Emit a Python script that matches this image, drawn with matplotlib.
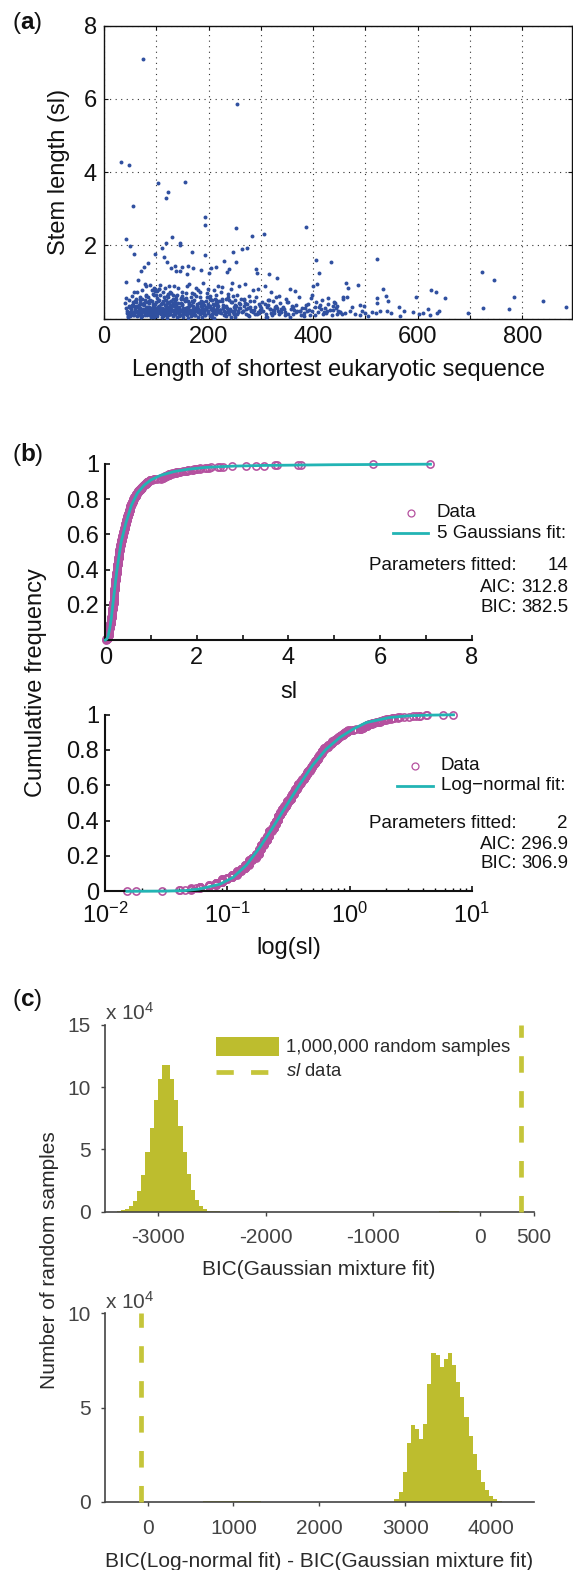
import numpy as np
import matplotlib
matplotlib.use('Agg')
import matplotlib.pyplot as plt
from matplotlib.lines import Line2D
from matplotlib.patches import Rectangle

plt.rcParams['font.family'] = ['Liberation Sans', 'DejaVu Sans']
plt.rcParams['mathtext.fontset'] = 'custom'
plt.rcParams['mathtext.rm'] = 'Liberation Sans'
plt.rcParams['mathtext.it'] = 'Liberation Sans:italic'
plt.rcParams['mathtext.bf'] = 'Liberation Sans:bold'
plt.rcParams['axes.unicode_minus'] = False

# ---- panel (a): length of shortest eukaryotic sequence vs stem length (sl)
seq_len = [
    33, 48, 55, 43, 49, 58, 43, 41, 44, 46,
    47, 50, 52, 45, 55, 57, 53, 59, 51, 56,
    42, 48, 54, 58, 60, 46, 52, 57, 49, 44,
    75, 97, 70, 77, 85, 65, 88, 92, 80, 95,
    62, 64, 67, 69, 71, 73, 76, 78, 81, 83,
    86, 89, 91, 94, 96, 99, 63, 66, 68, 72,
    74, 79, 82, 84, 87, 90, 93, 98, 61, 65,
    70, 77, 80, 85, 88, 92, 95, 97, 99, 67,
    72, 75, 83, 86, 90, 94, 62, 68, 78, 96,
    64, 71, 79, 84, 89, 93, 98, 66, 81, 87,
    104, 122, 118, 130, 118, 111, 114, 120, 135, 128,
    105, 108, 112, 116, 124, 132, 138, 101, 126, 134,
    102, 106, 109, 113, 115, 119, 121, 125, 127, 131,
    133, 136, 139, 103, 107, 110, 117, 123, 129, 137,
    100, 104, 111, 114, 119, 124, 128, 132, 135, 140,
    101, 106, 109, 115, 120, 126, 130, 134, 138, 112,
    103, 108, 116, 121, 127, 131, 136, 139, 105, 118,
    110, 113, 122, 125, 129, 133, 137, 102, 107, 123,
    154, 145, 145, 168, 160, 150, 170, 146, 175, 158,
    141, 143, 147, 149, 152, 155, 157, 161, 163, 166,
    169, 172, 174, 177, 179, 142, 148, 151, 156, 159,
    162, 165, 167, 171, 176, 178, 144, 153, 164, 173,
    140, 146, 150, 155, 160, 165, 170, 175, 180, 158,
    142, 147, 152, 157, 163, 168, 173, 178, 149, 161,
    194, 194, 194, 205, 215, 185, 200, 210, 190, 218,
    181, 183, 186, 188, 191, 193, 196, 198, 201, 203,
    206, 208, 211, 213, 216, 219, 182, 187, 192, 197,
    202, 207, 212, 217, 184, 189, 195, 199, 204, 214,
    220, 209, 199, 189, 180, 204, 214, 192, 185, 197,
    255, 253, 247, 229, 253, 240, 235, 225, 245, 258,
    221, 224, 227, 230, 233, 236, 239, 242, 246, 249,
    251, 254, 257, 260, 223, 228, 232, 238, 243, 248,
    252, 256, 226, 231, 237, 241, 244, 250, 234, 259,
    274, 264, 283, 290, 292, 295, 270, 285, 278, 262,
    265, 268, 272, 276, 280, 284, 288, 293, 297, 299,
    263, 267, 271, 275, 279, 286, 291, 296, 281, 269,
    306, 315, 330, 308, 320, 335, 302, 311, 325, 338,
    304, 309, 313, 318, 322, 327, 332, 336, 300, 316,
    319, 324, 329, 334, 339,
    355, 365, 372, 342, 346, 350, 358, 362, 368, 375,
    344, 352, 360, 370, 378, 348, 376, 364,
    387, 405, 412, 408, 400, 395, 390, 385, 382, 398,
    403, 410, 415, 418, 393, 406, 414, 388,
    435, 441, 429, 451, 422, 425, 432, 438, 445, 448,
    427, 436, 443, 455,
    462, 467, 465, 458, 461, 475, 486, 490, 497, 493,
    500, 490, 522, 533, 522, 522, 528, 521, 539, 544,
    548, 541, 470, 480, 505, 512,
    565, 567, 573, 590, 596, 602, 610, 620, 624, 626,
    634, 636, 641, 652, 696,
    722, 746, 785, 839, 884, 724, 774,
    120, 210, 160, 95, 250, 140, 310, 180,
    45, 58, 66, 80, 91, 52, 73, 86, 62, 95,
    71, 88, 47, 93, 60, 77, 84, 55, 68, 98,
    63, 79, 50, 87, 74, 96, 57, 69, 82, 43,
    90, 53, 67, 76, 85, 48, 94, 59, 72, 81,
    102, 118, 126, 109, 134, 113, 121, 138, 106, 129,
    131, 107, 115, 124, 103, 137, 119, 110, 128, 135,
    111, 136, 101, 120, 128, 105, 132, 116, 124, 139,
    123, 108, 117, 133, 100, 127, 112, 138, 104, 122,
    151, 166, 143, 158, 172, 147, 176, 162, 154, 169,
    174, 158, 145, 167, 152, 161, 178, 149, 171, 156,
    144, 170, 163, 150, 177, 157, 141, 168, 148, 175,
    187, 203, 214, 191, 182, 209, 196, 217, 186, 200,
    193, 211, 184, 204, 218, 188, 198, 207, 215, 183,
    206, 190, 199, 181, 216, 195, 210, 185, 202, 219,
    233, 248, 222, 257, 239, 230, 251, 244, 226, 237,
    242, 229, 255, 235, 221, 249, 227, 258, 240, 246,
    277, 289, 266, 294, 282, 261, 298, 273, 287, 268,
    312, 326, 303, 337, 318, 331, 307, 323, 314, 329,
    356, 383, 347, 367, 392, 374, 361, 386, 351, 398,
    404, 421, 437, 452, 412, 446, 428, 417, 440, 457,
]
stem_len = [
    4.27, 4.21, 3.08, 2.17, 1.98, 1.76, 1.01, 0.42, 0.22, 0.12,
    0.35, 0.08, 0.27, 0.16, 0.45, 0.19, 0.62, 0.31, 0.14, 0.09,
    0.28, 0.52, 0.38, 0.11, 0.24, 0.06, 0.18, 0.72, 0.33, 0.15,
    7.08, 1.78, 1.31, 1.40, 1.51, 1.06, 0.91, 0.79, 0.88, 0.83,
    0.21, 0.34, 0.12, 0.55, 0.27, 0.08, 0.43, 0.19, 0.66, 0.31,
    0.15, 0.24, 0.48, 0.11, 0.36, 0.22, 0.72, 0.17, 0.29, 0.39,
    0.26, 0.13, 0.21, 0.58, 0.33, 0.18, 0.25, 0.82, 0.46, 0.09,
    0.14, 0.37, 0.28, 0.20, 0.52, 0.30, 0.16, 0.41, 0.64, 0.24,
    0.77, 0.23, 0.11, 0.44, 0.27, 0.35, 0.19, 0.60, 0.95, 0.07,
    0.32, 0.18, 0.50, 0.26, 0.13, 0.68, 0.21, 0.38, 0.15, 0.29,
    3.71, 3.47, 3.30, 2.22, 2.06, 1.92, 1.69, 1.55, 1.45, 1.38,
    0.80, 0.92, 0.74, 0.85, 0.90, 0.66, 1.30, 0.76, 0.70, 0.88,
    0.22, 0.35, 0.14, 0.48, 0.26, 0.19, 0.61, 0.31, 0.12, 0.42,
    0.24, 0.55, 0.17, 0.29, 0.66, 0.21, 0.38, 0.15, 0.27, 0.33,
    0.45, 0.18, 0.30, 0.11, 0.52, 0.23, 0.36, 0.09, 0.47, 0.20,
    0.13, 0.27, 0.40, 0.58, 0.16, 0.72, 0.25, 0.34, 0.62, 0.08,
    0.32, 0.20, 0.24, 0.44, 0.19, 0.55, 0.14, 0.28, 0.81, 0.36,
    0.26, 0.17, 0.31, 0.12, 0.49, 0.22, 0.39, 0.57, 0.23, 0.68,
    3.74, 2.07, 2.00, 1.81, 1.45, 1.42, 1.38, 1.30, 0.84, 1.22,
    0.85, 0.33, 0.21, 0.62, 0.14, 0.47, 0.28, 0.18, 0.95, 0.37,
    0.24, 0.52, 0.11, 0.31, 0.78, 0.26, 0.43, 0.19, 0.70, 0.23,
    0.35, 0.16, 0.58, 0.27, 0.20, 0.41, 0.13, 0.55, 0.25, 0.67,
    0.30, 0.10, 0.38, 0.22, 0.48, 0.15, 0.34, 0.26, 0.18, 0.88,
    0.19, 0.56, 0.29, 0.12, 0.40, 0.21, 0.09, 0.32, 0.74, 0.27,
    2.77, 2.57, 1.74, 1.38, 1.40, 1.32, 1.25, 0.78, 0.98, 0.90,
    0.22, 0.14, 0.35, 0.18, 0.27, 0.09, 0.48, 0.21, 0.31, 0.62,
    0.25, 0.40, 0.16, 0.55, 0.29, 0.19, 0.43, 0.28, 0.12, 0.70,
    0.34, 0.13, 0.23, 0.38, 0.58, 0.20, 0.26, 0.15, 0.50, 0.66,
    0.17, 0.30, 0.82, 0.45, 0.26, 0.11, 0.52, 0.37, 0.24, 0.60,
    5.85, 2.47, 1.81, 1.57, 1.54, 1.35, 1.28, 0.86, 0.98, 0.88,
    0.24, 0.15, 0.38, 0.21, 0.55, 0.29, 0.12, 0.45, 0.19, 0.33,
    0.26, 0.64, 0.17, 0.40, 0.72, 0.31, 0.18, 0.25, 0.80, 0.14,
    0.36, 0.22, 0.48, 0.10, 0.60, 0.27, 0.20, 0.52, 0.34, 0.28,
    1.93, 1.89, 2.26, 1.35, 1.25, 0.80, 0.95, 0.78, 0.62, 0.55,
    0.22, 0.35, 0.14, 0.28, 0.47, 0.19, 0.31, 0.12, 0.40, 0.25,
    0.18, 0.52, 0.27, 0.09, 0.33, 0.24, 0.58, 0.16, 0.21, 0.44,
    2.30, 1.22, 1.12, 0.90, 0.72, 0.62, 0.45, 0.33, 0.25, 0.18,
    0.22, 0.14, 0.38, 0.27, 0.11, 0.31, 0.20, 0.42, 0.29, 0.52,
    0.16, 0.24, 0.35, 0.13, 0.26,
    0.82, 0.75, 0.60, 0.32, 0.18, 0.45, 0.26, 0.12, 0.38, 0.22,
    0.27, 0.14, 0.35, 0.20, 0.30, 0.55, 0.11, 0.24,
    2.51, 1.60, 1.26, 0.95, 0.88, 0.57, 0.40, 0.28, 0.15, 0.22,
    0.33, 0.18, 0.26, 0.12, 0.10, 0.45, 0.38, 0.20,
    1.54, 0.42, 0.56, 0.19, 0.30, 0.15, 0.25, 0.35, 0.12, 0.22,
    0.20, 0.09, 0.28, 0.14,
    0.97, 0.84, 0.60, 0.54, 0.15, 0.33, 0.92, 0.37, 0.36, 0.22,
    0.15, 0.10, 1.64, 0.80, 0.56, 0.42, 0.22, 0.15, 0.61, 0.49,
    0.15, 0.22, 0.20, 0.12, 0.08, 0.18,
    0.33, 0.07, 0.21, 0.19, 0.60, 0.13, 0.15, 0.26, 0.10, 0.78,
    0.72, 0.15, 0.22, 0.56, 0.15,
    1.28, 1.07, 0.60, 0.49, 0.33, 0.28, 0.26,
    0.015, 0.018, 0.029, 0.041, 0.045, 0.050, 0.055, 0.058,
    0.07, 0.13, 0.18, 0.23, 0.20, 0.30, 0.40, 0.47, 0.53, 0.66,
    0.05, 0.09, 0.15, 0.17, 0.25, 0.21, 0.32, 0.37, 0.50, 0.75,
    0.08, 0.11, 0.19, 0.26, 0.22, 0.28, 0.36, 0.42, 0.46, 0.56,
    0.06, 0.14, 0.24, 0.17, 0.20, 0.33, 0.39, 0.49, 0.54, 0.61,
    0.07, 0.09, 0.12, 0.19, 0.23, 0.26, 0.29, 0.41, 0.51, 0.70,
    0.08, 0.15, 0.21, 0.17, 0.25, 0.31, 0.35, 0.43, 0.47, 0.53,
    0.05, 0.13, 0.18, 0.24, 0.22, 0.34, 0.38, 0.50, 0.46, 0.64,
    0.09, 0.20, 0.26, 0.17, 0.30, 0.37, 0.44, 0.55, 0.48, 0.59,
    0.06, 0.08, 0.16, 0.22, 0.18, 0.25, 0.28, 0.42, 0.52, 0.69,
    0.09, 0.11, 0.23, 0.19, 0.26, 0.33, 0.36, 0.40, 0.45, 0.56,
    0.07, 0.14, 0.17, 0.21, 0.24, 0.29, 0.44, 0.49, 0.54, 0.63,
    0.05, 0.08, 0.12, 0.20, 0.24, 0.18, 0.31, 0.39, 0.47, 0.58,
    0.09, 0.22, 0.17, 0.26, 0.34, 0.36, 0.41, 0.51, 0.46, 0.72,
    0.06, 0.16, 0.19, 0.25, 0.21, 0.27, 0.38, 0.43, 0.55, 0.49,
    0.08, 0.12, 0.23, 0.18, 0.20, 0.32, 0.37, 0.46, 0.53, 0.67,
    0.04, 0.09, 0.14, 0.17, 0.24, 0.21, 0.30, 0.43, 0.50, 0.62,
    0.07, 0.13, 0.22, 0.19, 0.25, 0.29, 0.36, 0.41, 0.48, 0.54,
    0.06, 0.15, 0.20, 0.17, 0.26, 0.28, 0.39, 0.47, 0.51, 0.60,
    0.05, 0.08, 0.11, 0.18, 0.23, 0.21, 0.33, 0.37, 0.45, 0.66,
    0.09, 0.19, 0.24, 0.17, 0.31, 0.35, 0.40, 0.52, 0.46, 0.59,
]

# ---- panel (b): fitted cumulative curves
gauss_fit_sl = [0, 0.03, 0.06, 0.1, 0.13, 0.16, 0.2, 0.25, 0.3, 0.35, 0.45,
                0.57, 0.7, 0.85, 1.0, 1.2, 1.5, 1.8, 2.2, 2.8, 3.5, 5.0, 7.1]
gauss_fit_cdf = [0, 0.005, 0.02, 0.07, 0.12, 0.19, 0.28, 0.39, 0.48, 0.56, 0.665,
                 0.765, 0.835, 0.88, 0.91, 0.935, 0.957, 0.97, 0.981, 0.988, 0.992, 0.996, 0.999]
lognorm_fit_sl = [0.015, 0.03, 0.045, 0.059, 0.0865, 0.111, 0.143, 0.184, 0.237, 0.304,
                  0.391, 0.50, 0.645, 0.83, 1.07, 1.37, 2.1, 3.0, 4.5, 7.1]
lognorm_fit_cdf = [0.0, 0.001, 0.004, 0.013, 0.040, 0.078, 0.148, 0.248, 0.365, 0.485,
                   0.605, 0.715, 0.805, 0.87, 0.918, 0.955, 0.983, 0.993, 0.997, 0.999]
fit_names = ['5 Gaussians fit:', 'Log\u2212normal fit:']
n_params = [14, 2]
aic = [312.8, 296.9]
bic = [382.5, 306.9]

# ---- panel (c): histograms of 1,000,000 random samples (counts in units of 10^4)
gmm_bin_start, gmm_bin_w = -3390, 38.5
gmm_counts = [0.03, 0.1, 0.2, 0.43, 0.88, 1.65, 2.96, 4.75, 6.72, 8.93, 10.67, 11.76,
              11.76, 10.67, 8.93, 6.88, 4.75, 3.01, 1.73, 0.96, 0.48, 0.21, 0.08, 0.04, 0.02]
gmm_minor_start = -387
gmm_minor_counts = [0.04, 0.06, 0.06, 0.05, 0.03]
diff_bin_start, diff_bin_w = 2874, 48
diff_counts = [0.12, 0.5, 1.58, 3.1, 4.08, 3.87, 3.33, 4.13, 6.26, 7.89, 7.78, 7.16, 7.57,
               7.89, 7.27, 6.38, 5.55, 4.52, 3.49, 2.54, 1.67, 1.06, 0.6, 0.3, 0.12, 0.04]
diff_minor_start = 650
diff_minor_counts = [0.02, 0.03, 0.03, 0.03, 0.02, 0.03, 0.03, 0.02, 0.02, 0.03, 0.02, 0.02, 0.02, 0.02]
bic_diff_data = bic[1] - bic[0]

BLUE = '#3050a0'
MAGENTA = '#b5519f'
CYAN = '#22b4b4'
OLIVE = '#bdbd2e'
DASH = '#c5c53a'
BLACK = '#111111'
GRAY = '#444444'

W, H = 573, 1570


def fx(px):
    return px / W


def fy(py):
    return 1 - py / H


def box(l, t, r, b):
    return [l / W, 1 - b / H, (r - l) / W, (b - t) / H]


fig = plt.figure(figsize=(W / 100, H / 100), dpi=100)

# ================= (a) =================
ax = fig.add_axes(box(104, 25.7, 572, 318.7))
ax.scatter(seq_len, stem_len, s=8, color=BLUE, linewidths=0, zorder=3)
ax.set_xlim(0, 895)
ax.set_ylim(0, 8)
xt = list(range(0, 900, 100))
ax.set_xticks(xt)
ax.set_xticklabels([str(v) if v % 200 == 0 else '' for v in xt])
ax.set_yticks([0, 2, 4, 6, 8])
ax.set_yticklabels(['', '2', '4', '6', '8'])
ax.grid(True, color='#333333', linestyle=(0, (1, 4)), linewidth=0.8, zorder=0)
ax.tick_params(direction='in', length=3, labelsize=17, colors=BLACK, top=True, right=True)
ax.tick_params(axis='x', pad=5.6)
ax.tick_params(axis='y', pad=5)
for s in ax.spines.values():
    s.set_linewidth(1.0)
    s.set_color(BLACK)

fig.text(fx(338), fy(370), 'Length of shortest eukaryotic sequence', ha='center', va='center',
         size=17, color=BLACK)
fig.text(fx(58.5), fy(172), 'Stem length (sl)', rotation=90, ha='center', va='center',
         size=17, color=BLACK)
fig.text(fx(12), fy(23), r'($\mathbf{a}$)', ha='left', va='center', size=17.5, color=BLACK)

# ================= (b) =================
sl_sorted = np.sort(np.array(stem_len))
cum = np.arange(1, len(sl_sorted) + 1) / len(sl_sorted)

axb1 = fig.add_axes(box(105.3, 464, 471.7, 640))
axb2 = fig.add_axes(box(105.3, 714.6, 471.7, 891.3))
for a, fsl, fcdf in [(axb1, gauss_fit_sl, gauss_fit_cdf), (axb2, lognorm_fit_sl, lognorm_fit_cdf)]:
    a.plot(sl_sorted, cum, 'o', mfc='none', mec=MAGENTA, ms=5.2, mew=1.15, zorder=2, clip_on=False)
    a.plot(fsl, fcdf, color=CYAN, lw=2.0, zorder=3, clip_on=False)
    a.set_ylim(0, 1)
    a.spines['top'].set_visible(False)
    a.spines['right'].set_visible(False)
    for s in ('left', 'bottom'):
        a.spines[s].set_linewidth(1.5)
        a.spines[s].set_color(BLACK)
    a.tick_params(direction='in', length=3.5, width=1.2, labelsize=17, colors=BLACK)
    a.tick_params(axis='y', pad=4.5)

axb1.set_xlim(0, 8)
axb1.set_xticks(range(0, 9))
axb1.set_xticklabels([str(v) if v % 2 == 0 else '' for v in range(0, 9)])
axb1.set_yticks([0.2, 0.4, 0.6, 0.8, 1])
axb1.set_yticklabels(['0.2', '0.4', '0.6', '0.8', '1'])
axb1.tick_params(axis='x', pad=5.4)

axb2.set_xscale('log')
axb2.set_xlim(0.01, 10)
axb2.set_yticks([0, 0.2, 0.4, 0.6, 0.8, 1])
axb2.set_yticklabels(['0', '0.2', '0.4', '0.6', '0.8', '1'])
axb2.tick_params(axis='x', which='major', pad=8.5)
axb2.tick_params(axis='x', which='minor', direction='in', length=2.2, width=1.0)

fig.text(fx(288.5), fy(691.7), 'sl', ha='center', va='center', size=17, color=BLACK)
fig.text(fx(288.5), fy(948), 'log(sl)', ha='center', va='center', size=17, color=BLACK)
fig.text(fx(36), fy(683), 'Cumulative frequency', rotation=90, ha='center', va='center',
         size=17, color=BLACK)
fig.text(fx(12), fy(455), r'($\mathbf{b}$)', ha='left', va='center', size=17.5, color=BLACK)

# legends and fit statistics
leg_rows = [(512.7, 533.3, 565.7, 587, 607.3, 410.5, 393, 428, 437),
            (765.5, 786, 824, 844.5, 864, 415, 396.7, 432.7, 441)]
for i, (yd, yf, yp, ya, yb, mx, lx0, lx1, tx) in enumerate(leg_rows):
    fig.add_artist(Line2D([fx(mx)], [fy(yd)], marker='o', mfc='none', mec=MAGENTA, ms=5,
                          mew=0.9, linestyle='none', transform=fig.transFigure))
    fig.text(fx(tx), fy(yd), 'Data', ha='left', va='center', size=13.5, color=BLACK)
    fig.add_artist(Line2D([fx(lx0), fx(lx1)], [fy(yf), fy(yf)], color=CYAN, lw=2.0,
                          transform=fig.transFigure))
    fig.text(fx(tx), fy(yf), fit_names[i], ha='left', va='center', size=13.5, color=BLACK)
    for lab, val, yy in [('Parameters fitted:', f'{n_params[i]}', yp),
                         ('AIC:', f'{aic[i]:.1f}', ya), ('BIC:', f'{bic[i]:.1f}', yb)]:
        fig.text(fx(516.5), fy(yy), lab, ha='right', va='center', size=13.5, color=BLACK)
        fig.text(fx(568), fy(yy), val, ha='right', va='center', size=13.5, color=BLACK)

# ================= (c) =================
axc1 = fig.add_axes(box(104.7, 1025, 534, 1211.5))
axc2 = fig.add_axes(box(104.7, 1313.3, 534, 1501.7))

gmm_left = gmm_bin_start + gmm_bin_w * np.arange(len(gmm_counts))
axc1.bar(gmm_left, gmm_counts, width=gmm_bin_w, align='edge', color=OLIVE, linewidth=0)
gmm_mleft = gmm_minor_start + gmm_bin_w * np.arange(len(gmm_minor_counts))
axc1.bar(gmm_mleft, gmm_minor_counts, width=gmm_bin_w, align='edge', color=OLIVE, linewidth=0)
lw_d = 3.4
axc1.plot([bic[0], bic[0]], [0, 15], color=DASH, lw=lw_d, dashes=(3.5, 3.9),
          dash_capstyle='butt', clip_on=False, zorder=3)
axc1.set_xlim(-3500, 500)
axc1.set_ylim(0, 15)
axc1.set_xticks([-3000, -2000, -1000, 0, 500])
axc1.set_yticks([0, 5, 10, 15])
axc1.tick_params(axis='x', pad=8.6)

diff_left = diff_bin_start + diff_bin_w * np.arange(len(diff_counts))
axc2.bar(diff_left, diff_counts, width=diff_bin_w, align='edge', color=OLIVE, linewidth=0)
diff_mleft = diff_minor_start + diff_bin_w * np.arange(len(diff_minor_counts))
axc2.bar(diff_mleft, diff_minor_counts, width=diff_bin_w, align='edge', color=OLIVE, linewidth=0)
axc2.plot([bic_diff_data, bic_diff_data], [0, 10], color=DASH, lw=lw_d, dashes=(3.5, 3.9),
          dash_capstyle='butt', clip_on=False, zorder=3)
axc2.set_xlim(-500, 4500)
axc2.set_ylim(0, 10)
axc2.set_xticks([0, 1000, 2000, 3000, 4000])
axc2.set_yticks([0, 5, 10])
axc2.tick_params(axis='x', pad=9.7)

for a in (axc1, axc2):
    a.spines['top'].set_visible(False)
    a.spines['right'].set_visible(False)
    for s in ('left', 'bottom'):
        a.spines[s].set_linewidth(1.2)
        a.spines[s].set_color(GRAY)
    a.tick_params(direction='out', length=3, width=1.0, labelsize=15, colors=GRAY)
    a.tick_params(axis='y', pad=7.2)

fig.text(fx(105), fy(1013), r'x $\mathdefault{10^{4}}$', ha='left', va='center', size=15, color=GRAY)
fig.text(fx(105), fy(1301.7), r'x $\mathdefault{10^{4}}$', ha='left', va='center', size=15, color=GRAY)
fig.text(fx(319), fy(1269.3), 'BIC(Gaussian mixture fit)', ha='center', va='center', size=15,
         color='#2a2a2a')
fig.text(fx(319), fy(1561.7), 'BIC(Log-normal fit) - BIC(Gaussian mixture fit)', ha='center',
         va='center', size=15, color='#2a2a2a')
fig.text(fx(50), fy(1260), 'Number of random samples', rotation=90, ha='center', va='center',
         size=15, color='#2a2a2a')
fig.text(fx(12), fy(1000), r'($\mathbf{c}$)', ha='left', va='center', size=17.5, color=BLACK)

# legend of (c)
fig.add_artist(Rectangle((fx(216), fy(1056)), 62.7 / W, 19.3 / H, transform=fig.transFigure,
                         color=OLIVE, linewidth=0))
fig.text(fx(286), fy(1047.7), '1,000,000 random samples', ha='left', va='center', size=13.3,
         color='#2a2a2a')
fig.add_artist(Line2D([fx(216), fx(269)], [fy(1071.7), fy(1071.7)], color=DASH, lw=lw_d,
                      dashes=(3.66, 3.66), dash_capstyle='butt', transform=fig.transFigure))
fig.text(fx(286), fy(1071.7), r'$\mathit{sl}$ data', ha='left', va='center', size=13.3,
         color='#2a2a2a')

fig.savefig('out.png', dpi=100, facecolor='white')
